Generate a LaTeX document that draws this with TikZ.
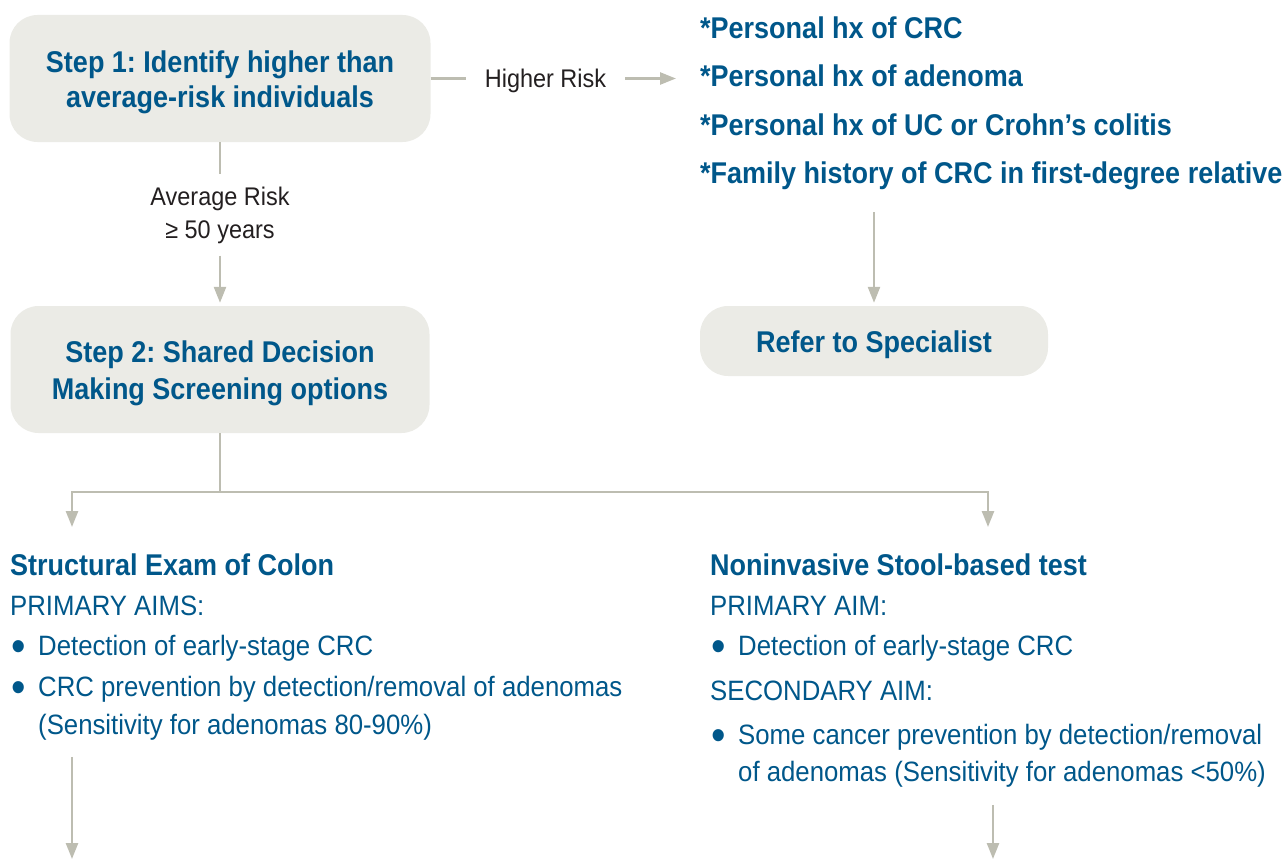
\documentclass[tikz,border=0pt]{standalone}
\usepackage{fontspec}
\setmainfont{Liberation Sans}[FakeStretch=0.92, BoldFeatures={FakeStretch=0.9}]
\usetikzlibrary{arrows.meta}
\frenchspacing
\definecolor{crcblue}{HTML}{00578A}
\definecolor{boxgray}{HTML}{EBEBE6}
\definecolor{linegray}{HTML}{BDBDB1}
\definecolor{labelblack}{HTML}{231F20}
\newcommand{\aimbullet}{\makebox[28pt][l]{\hspace*{1pt}\raisebox{-5.5pt}{\scalebox{1.6}{\textbullet}}}}
\newcommand{\boxstrut}{\rule{0pt}{30pt}}
\tikzset{
	stepbox/.style={fill=boxgray, rounded corners=28pt, text=crcblue, align=center, font=\bfseries\fontsize{30}{35}\selectfont},
	link/.style={draw=linegray, line width=2.5pt},
	arr/.style={link, -{Triangle[length=16pt,width=12pt]}},
	risklabel/.style={font=\fontsize{25.5}{33}\selectfont, align=center, text=labelblack},
	aimtext/.style={text=crcblue, align=left, inner sep=0pt, anchor=north west, font=\fontsize{28}{40}\selectfont}
}

\begin{document}
\begin{tikzpicture}[x=1pt,y=-1pt]
				\useasboundingbox (0,0) rectangle (1288,859);
				
				% step boxes and labels
				\node[stepbox, minimum width=421pt, minimum height=127pt] (step1) at (220,78.5) {\boxstrut Step 1: Identify higher than\\average-risk individuals};
				\node[risklabel, inner xsep=19pt] (risk) at (545.5,81) {Higher Risk};
				\node[aimtext, font=\bfseries\fontsize{30}{48.5}\selectfont] (hx) at (700,16.5) {*Personal hx of CRC\\*Personal hx of adenoma\\*Personal hx of UC or Crohn’s colitis\\*Family history of CRC in first-degree relative};
				\node[stepbox, minimum width=348pt, minimum height=70pt] (refer) at (874,341) {\boxstrut Refer to Specialist};
				\node[risklabel, inner ysep=12pt] (avg) at (220,215) {Average Risk\\≥ 50 years};
				\node[stepbox, font=\bfseries\fontsize{30}{37}\selectfont, minimum width=419pt, minimum height=127pt] (step2) at (220,369.5) {\boxstrut Step 2: Shared Decision\\Making Screening options};
				
				% screening options
				\node[aimtext] (struct) at (10,554) {{\bfseries\fontsize{30}{40}\selectfont Structural Exam of Colon}\\
					PRIMARY AIMS:\\
					\aimbullet Detection of early-stage CRC\\[1pt]
					\aimbullet CRC prevention by detection/removal of adenomas\\[-2pt]
					\hspace*{28pt}(Sensitivity for adenomas 80-90\%)};
				\node[aimtext] (stool) at (710,554) {{\bfseries\fontsize{30}{40}\selectfont Noninvasive Stool-based test}\\
					PRIMARY AIM:\\
					\aimbullet Detection of early-stage CRC\\[5pt]
					SECONDARY AIM:\\[4pt]
					\aimbullet Some cancer prevention by detection/removal\\[-3pt]
					\hspace*{28pt}of adenomas (Sensitivity for adenomas <50\%)};
				
				\coordinate (split) at (220,492);
				\coordinate (structtip) at (72,527);
				\coordinate (stooltip) at (988,527);
				\coordinate (structend) at (72,859);
				\coordinate (stoolend) at (993,859);
				
				% connectors
				\draw[link] (step1.east) -- (step1.east -| risk.west);
				\draw[arr, shorten >=24pt] (risk.east |- step1.east) -- (step1.east -| hx.west);
				\draw[arr, shorten <=22pt, shorten >=3pt] (refer.north |- hx.south) -- (refer.north);
				\draw[link] (step1) -- (avg);
				\draw[arr, shorten >=3pt] (avg) -- (step2);
				\draw[link] (step2) -- (split);
				\draw[arr] (split) -| (structtip);
				\draw[arr] (split) -| (stooltip);
				\draw[arr, shorten <=16pt] (structend |- struct.south) -- (structend);
				\draw[arr, shorten <=17pt] (stoolend |- stool.south) -- (stoolend);
				
			\end{tikzpicture}
\end{document}
